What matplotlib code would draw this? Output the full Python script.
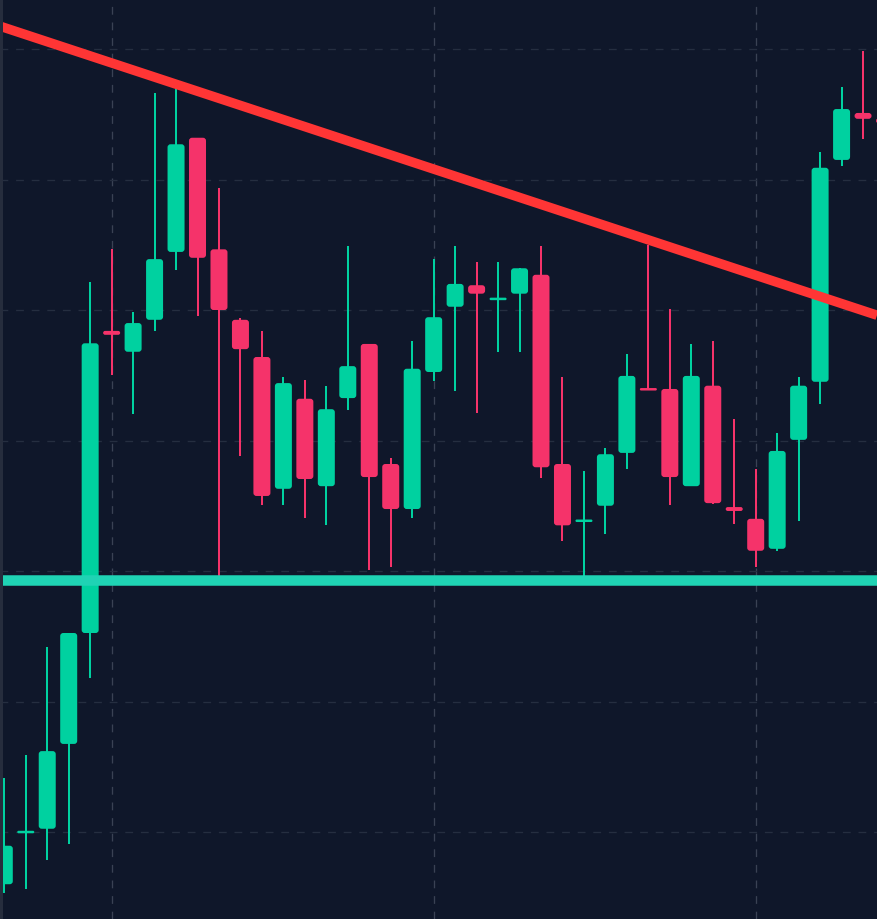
import matplotlib
matplotlib.use("Agg")
import matplotlib.pyplot as plt
from matplotlib.patches import FancyBboxPatch, Rectangle

# ---- data (price units) ----
opens = [99.20, 100.00, 100.05, 101.35, 103.05, 107.68, 107.36, 107.85, 108.89, 110.64,
         108.93, 107.85, 107.28, 105.26, 106.64, 105.30, 106.65, 107.48, 105.64, 104.95,
         107.05, 108.05, 108.38, 108.17, 108.25, 108.54, 105.64, 104.77, 105.00, 105.81,
         106.80, 106.79, 105.30, 106.84, 104.98, 104.80, 104.34, 106.01, 106.90, 110.30,
         111.02, 110.94]
closes = [99.79, 100.00, 101.24, 103.05, 107.49, 107.62, 107.80, 108.78, 110.54, 108.80,
          108.00, 107.40, 105.15, 106.88, 105.41, 106.48, 107.14, 105.44, 104.95, 107.10,
          107.89, 108.40, 108.25, 108.17, 108.64, 105.59, 104.70, 104.77, 105.79, 106.99,
          106.77, 105.44, 106.99, 105.04, 104.92, 104.31, 105.84, 106.84, 110.18, 111.08,
          110.93, 110.86]
highs = [100.83, 101.18, 102.84, 103.05, 108.43, 108.93, 107.97, 111.33, 111.42, 110.64,
         109.87, 107.88, 107.68, 106.97, 106.93, 106.84, 108.98, 107.48, 105.73, 107.52,
         108.78, 108.98, 108.74, 108.74, 108.64, 108.98, 106.97, 105.53, 105.89, 107.33,
         109.00, 108.02, 107.48, 107.52, 106.33, 105.56, 106.11, 106.97, 110.42, 111.42,
         111.97, 111.07]
lows = [99.07, 99.13, 99.57, 99.82, 102.36, 107.00, 106.41, 107.68, 108.61, 107.91,
        103.92, 105.76, 105.01, 105.01, 104.81, 104.70, 106.47, 104.02, 104.06, 104.81,
        106.91, 106.76, 106.42, 107.36, 107.36, 105.43, 104.46, 103.91, 104.57, 105.56,
        106.77, 105.01, 105.30, 105.03, 104.72, 104.06, 104.31, 104.77, 106.56, 110.21,
        110.62, 110.79]

support_level = 103.86
trend_x = [-0.2, 40.65]
trend_y = [112.35, 107.92]

grid_prices = [100, 102, 104, 106, 108, 110, 112]
grid_index = [5, 20, 35]

# ---- style ----
BG = "#0f172a"
GREEN = "#00d1a0"
RED = "#f5336a"
TREND = "#ff3535"
SUPPORT = "#1fd3b4"

W, H = 877, 919
DPI = 100
PT = 72 / DPI

fig = plt.figure(figsize=(W / DPI, H / DPI), dpi=DPI)
fig.patch.set_facecolor(BG)
ax = fig.add_axes([0, 0, 1, 1])
ax.set_facecolor(BG)

xlim = (-0.2, 40.65)
ylim = (98.667, 112.751)
ax.set_xlim(*xlim)
ax.set_ylim(*ylim)
px_x = W / (xlim[1] - xlim[0])
px_y = H / (ylim[1] - ylim[0])

# grid
ax.set_yticks(grid_prices)
ax.set_xticks(grid_index)
ax.yaxis.grid(True, color="#252e40", lw=1.3 * PT, linestyle=(0, (6, 6)))
ax.xaxis.grid(True, color="#3a4254", lw=1.3 * PT, linestyle=(0, (6, 6)))
ax.set_axisbelow(True)
ax.tick_params(left=False, bottom=False, labelleft=False, labelbottom=False)
for s in ax.spines.values():
    s.set_visible(False)

# candles
body_w_px = 17
for i, (o, h, l, c) in enumerate(zip(opens, highs, lows, closes)):
    col = GREEN if c >= o else RED
    ax.plot([i, i], [l, h], color=col, lw=2.0 * PT, solid_capstyle="butt", zorder=2)
    lo, hi = min(o, c), max(o, c)
    h_px = max((hi - lo) * px_y, 2.5)
    mid = (lo + hi) / 2
    h_data = h_px / px_y
    r_px = min(3.0, h_px / 2, body_w_px / 2)
    box = FancyBboxPatch((i - body_w_px / 2 / px_x, mid - h_data / 2),
                         body_w_px / px_x, h_data,
                         boxstyle=f"round,pad=0,rounding_size={r_px / px_x}",
                         mutation_aspect=px_x / px_y,
                         fc=col, ec="none", zorder=3)
    ax.add_patch(box)

# support line
ax.axhline(support_level, color=SUPPORT, lw=10.5 * PT, zorder=5)

# trend line
ax.plot(trend_x, trend_y, color=TREND, lw=9.5 * PT, solid_capstyle="butt", zorder=5)

# left edge strip
ax.add_patch(Rectangle((0, 0), 2.5 / W, 1, transform=ax.transAxes,
                       fc="#262d3d", ec="none", zorder=6))

fig.savefig("out.png", dpi=DPI, facecolor=BG)
